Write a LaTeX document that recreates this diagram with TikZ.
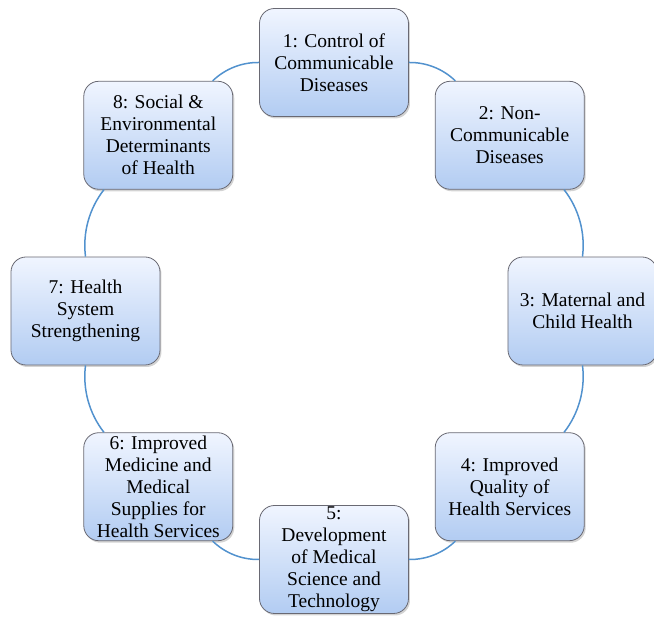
\documentclass[tikz,border=0pt]{standalone}
\usepackage{fontspec}
\newfontfamily\topicfont{Liberation Serif}
\usepackage{xcolor}
\usetikzlibrary{shadows}
\definecolor{boxtop}{RGB}{240,245,255}
\definecolor{boxbottom}{RGB}{178,204,242}
\definecolor{boxline}{RGB}{105,105,115}
\definecolor{linkblue}{RGB}{82,146,206}
\tikzset{topic/.style={draw=boxline, line width=0.8pt, rounded corners=15pt,
   top color=boxtop, bottom color=boxbottom, align=center,
   minimum width=149pt, minimum height=108pt, inner sep=0pt,
   font=\topicfont\fontsize{19.5}{22}\selectfont,
   drop shadow={shadow xshift=1.5pt, shadow yshift=-2pt, opacity=0.35}},
 link/.style={draw=linkblue, line width=1.5pt, bend left=22.5, looseness=0.885},
 }

\begin{document}
\begin{tikzpicture}[x=1pt, y=1pt]
        \useasboundingbox (-334, -306) rectangle (320, 311);
        \node[topic] (b1) at (90:248.5) {1: Control of\\Communicable\\Diseases};
        \node[topic] (b2) at (45:248.5) {2: Non-\\Communicable\\Diseases};
        \node[topic] (b3) at (0:248.5) {3: Maternal and\\Child Health};
        \node[topic] (b4) at (-45:248.5) {4: Improved\\Quality of\\Health Services};
        \node[topic] (b5) at (-90:248.5) {5:\\Development\\of Medical\\Science and\\Technology};
        \node[topic] (b6) at (-135:248.5) {6: Improved\\Medicine and\\Medical\\Supplies for\\Health Services};
        \node[topic] (b7) at (180:248.5) {7: Health\\System\\Strengthening};
        \node[topic] (b8) at (135:248.5) {8: Social \&\\Environmental\\Determinants\\of Health};
        \draw[link] (b1) to (b2);
        \draw[link] (b2) to (b3);
        \draw[link] (b3) to (b4);
        \draw[link] (b4) to (b5);
        \draw[link] (b5) to (b6);
        \draw[link] (b6) to (b7);
        \draw[link] (b7) to (b8);
        \draw[link] (b8) to (b1);
    \end{tikzpicture}
\end{document}
